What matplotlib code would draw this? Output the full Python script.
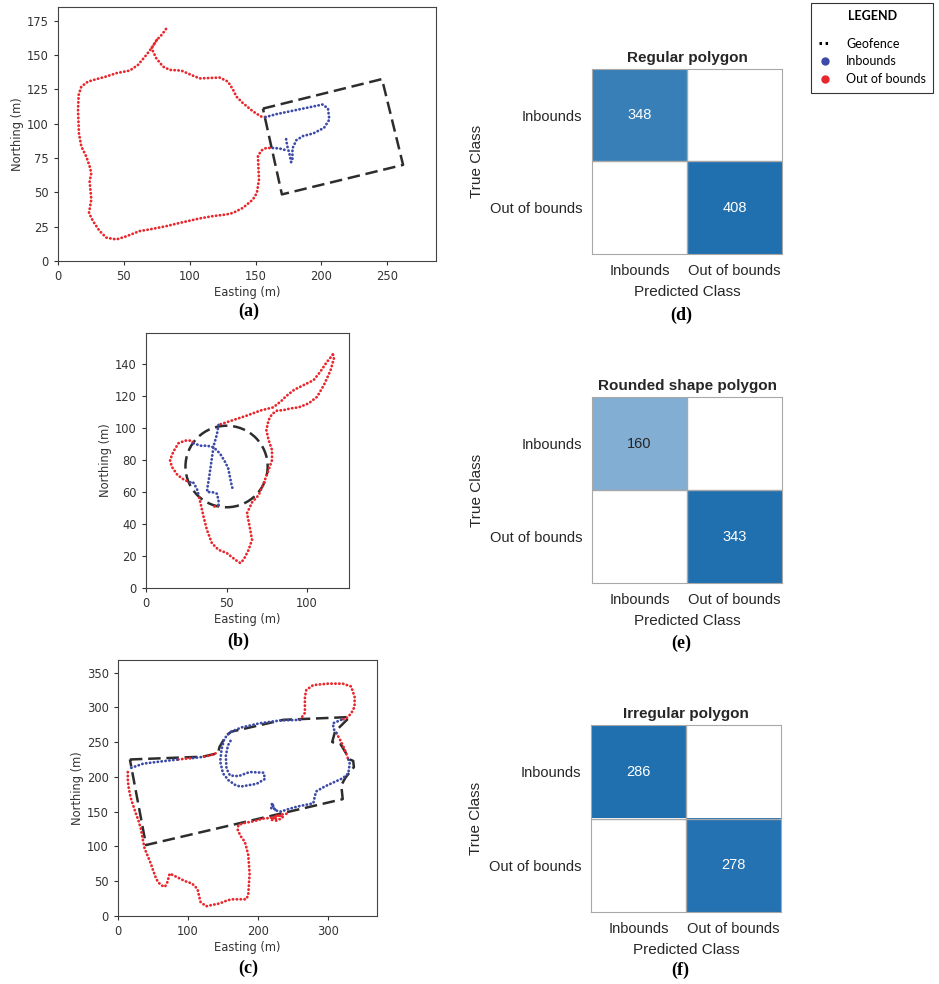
import numpy as np
import matplotlib.pyplot as plt
from matplotlib.lines import Line2D
from matplotlib.patches import Circle
from matplotlib.colors import LinearSegmentedColormap, Normalize

# ---------------- dane: panel (a) prostokatny geofence ----------------
a_fence = [(155.6, 111), (246, 132.5), (262, 70), (170, 48.5), (155.6, 111)]
a_red_right = [(82, 169), (79, 165), (75, 161), (71, 155), (74.6, 147.7), (79.7, 141.6), (84.8, 139.2),
               (93.6, 138.7), (101, 135.6), (107.5, 133), (122.7, 133.6), (129, 130.7), (132.8, 125),
               (135.4, 119.8), (140.4, 115), (148, 109), (154, 105.3), (157.4, 104.8)]
a_red_left = [(75, 161), (71, 155), (67, 150), (60.7, 142.8), (54.4, 138.7), (44.3, 136.8), (36.7, 134.4),
              (29, 132.4), (22.8, 130.7), (17.7, 127), (15.7, 121), (15.2, 110), (15.9, 93), (17.7, 83.5),
              (21.5, 76), (24, 69), (25.3, 64), (24, 58), (25.3, 44.8), (23.5, 35), (26.6, 29), (31.6, 21.8),
              (36.7, 17), (44.3, 15.7), (51.9, 18), (62, 21.8), (69.6, 23), (82.2, 25.4), (95, 28.3),
              (107.5, 31), (117.7, 32.7), (127.8, 33.9), (132.8, 35), (140.4, 38.7), (148, 44.8), (151, 49.6),
              (152.6, 59.3), (151.8, 76.3), (154.3, 80.4), (158, 82.3), (163, 82.3)]
a_blue_1 = [(157.4, 104.8), (166, 107), (181, 110), (196, 113), (201, 114), (205, 111), (206, 103),
            (202, 97), (194, 93), (186, 91), (181, 88), (178, 82), (178, 74), (177, 72), (176, 77),
            (174, 84), (173, 90)]
a_blue_2 = [(163, 82.3), (168, 82), (172, 81)]

# ---------------- dane: panel (b) okragly geofence ----------------
b_center = (50, 76)
b_radius = 25.5
b_red_1 = [(116, 146), (112, 141), (108, 135), (104, 130), (98, 127), (92, 124), (87, 120), (84, 117),
           (79, 113), (71, 111), (63, 108), (54, 105), (48, 103), (45, 102)]
b_red_2 = [(116, 146), (116.6, 143.5), (114.5, 136), (110.4, 126.9), (106.2, 119.6), (101, 115.5),
           (94.8, 113), (89.6, 112.3), (85.5, 111.3), (81.3, 110.9), (78.2, 108.8), (76.1, 105),
           (74.7, 98.8), (76.1, 92.6), (78.2, 86.3), (78.2, 80), (76.1, 73.8), (73, 65.5), (70, 58.2),
           (65.8, 53.5), (62.7, 46.8), (64.3, 38.5), (65.8, 30.2), (63.7, 23.9), (60.6, 17.7), (58.5, 15.6),
           (55.4, 17.7), (50.2, 21.8), (45, 23.9), (40.9, 28), (37.8, 36.4), (35.7, 44.7), (33.6, 54),
           (32.6, 58.2)]
b_red_3 = [(27.4, 66), (23.2, 68), (19.5, 70.7), (16, 75.9), (14.9, 80), (17, 85.3), (20.1, 90.5),
           (24.3, 92.2), (28.4, 92.2), (29.5, 90.5)]
b_red_4 = [(42.5, 51), (45, 51.5)]
b_blue_1 = [(45, 102), (44, 96), (42, 89), (41, 82), (40, 75), (39, 68), (38, 62), (38, 60), (41, 60),
            (44, 59), (45, 55), (45, 52)]
b_blue_2 = [(29.5, 90.5), (34, 89), (38, 89), (42, 88), (46, 84), (49, 79), (51, 75), (52, 70), (53, 65),
            (54, 61)]
b_blue_3 = [(27.4, 66), (29, 66.5), (30.5, 64), (32, 61), (32.6, 58.2)]

# ---------------- dane: panel (c) nieregularny geofence ----------------
c_fence = [(17, 225), (121, 229), (143, 234), (145, 243), (155, 260), (162, 265), (236, 282), (331, 286),
           (310, 265), (306, 250), (318, 247), (331, 225), (336, 223), (337, 214), (325, 199), (319, 188),
           (321, 168), (40, 102), (17, 225)]
c_red_1 = [(14, 207), (14, 196), (15, 186), (17, 175), (19, 167), (22, 158), (24, 152), (26, 146), (29, 138),
           (31, 131), (33, 124), (35, 112), (38, 97), (43, 85), (47, 75), (50, 66), (54, 55), (57, 49),
           (62, 44), (67, 42), (70, 47), (73, 58), (74, 61), (80, 58), (88, 54), (96, 50), (105, 47),
           (110, 43), (114, 37), (116, 28), (118, 20), (126, 14), (135, 16), (145, 18), (155, 22), (162, 24),
           (175, 24), (183, 24), (186, 30), (187, 45), (188, 61), (187, 75), (186, 88), (183, 100), (181, 107),
           (175, 115), (171, 124), (172, 131), (182, 134), (193, 136), (207, 140), (218, 141), (226, 143),
           (235, 146), (241, 147)]
c_red_2 = [(220, 138), (226, 140), (232, 139), (236, 143), (228, 145), (222, 141), (226, 137)]
c_red_3 = [(86, 225), (95, 226), (107, 227)]
c_red_4 = [(123, 229), (132, 231), (140, 234)]
c_red_5 = [(260, 282), (267, 292), (267, 305), (267, 315), (269, 325), (279, 332), (300, 334), (321, 334),
           (333, 330), (338, 315), (338, 301), (333, 291), (326, 284), (319, 282)]
c_red_6 = [(312, 263), (319, 250), (324, 239), (329, 225)]
c_blue_1 = [(19, 213), (36, 219), (60, 222), (86, 225)]
c_blue_2 = [(107, 227), (115, 228), (123, 229)]
c_blue_3 = [(260, 282), (231, 281), (202, 277), (176, 271), (160, 264), (152, 255), (148, 240), (146, 222),
            (150, 205), (158, 195), (168, 188), (175, 186), (198, 190), (210, 197), (208, 206), (188, 207),
            (172, 201), (160, 202), (155, 212), (154, 230), (157, 245), (162, 254)]
c_blue_4 = [(319, 282), (307, 277), (308, 269), (312, 263)]
c_blue_5 = [(329, 225), (331, 219), (329, 205), (321, 198), (310, 193), (295, 186), (283, 179), (281, 171),
            (279, 162), (269, 160), (255, 157), (241, 153), (233, 150), (224, 152), (221, 160)]
c_blue_6 = [(219, 155), (220, 162), (222, 157), (225, 152)]

# ---------------- macierze pomylek ----------------
classes = ['Inbounds', 'Out of bounds']
cm_d = [[348, 0], [0, 408]]
cm_e = [[160, 0], [0, 343]]
cm_f = [[286, 0], [0, 278]]
cm_titles = ['Regular polygon', 'Rounded shape polygon', 'Irregular polygon']

RED = '#e8262b'
BLUE = '#3c4ba8'
FENCE = '#2d2d2d'
W, H = 939, 984

fig = plt.figure(figsize=(W / 100, H / 100), dpi=100)


def add_ax(l, t, r, b):
    return fig.add_axes([l / W, 1 - b / H, (r - l) / W, (b - t) / H])


def track(ax, pts, color):
    xs, ys = zip(*pts)
    ax.plot(xs, ys, color=color, lw=2.0, ls=(0, (0.1, 1.3)), dash_capstyle='round')


def fence_line(ax, pts):
    xs, ys = zip(*pts)
    ax.plot(xs, ys, color=FENCE, lw=1.8, ls=(0, (5, 2.3)), zorder=1)


def style_map(ax, xlim, ylim, xticks, yticks):
    ax.set_xlim(*xlim)
    ax.set_ylim(*ylim)
    ax.set_xticks(xticks)
    ax.set_yticks(yticks)
    ax.tick_params(labelsize=8.3, colors='#333333', length=3)
    for s in ax.spines.values():
        s.set_color('#444444')
    ax.set_xlabel('Easting (m)', fontsize=8.3, color='#333333', labelpad=2)
    ax.set_ylabel('Northing (m)', fontsize=8.3, color='#333333', labelpad=2)


# (a)
ax = add_ax(58, 7, 436, 261)
fence_line(ax, a_fence)
for seg in [a_red_right, a_red_left]:
    track(ax, seg, RED)
for seg in [a_blue_1, a_blue_2]:
    track(ax, seg, BLUE)
style_map(ax, (0, 287), (0, 185), range(0, 251, 50), range(0, 176, 25))

# (b)
ax = add_ax(146, 333, 349, 588)
ax.add_patch(Circle(b_center, b_radius, fill=False, ec=FENCE, lw=1.8, ls=(0, (5, 2.3)), zorder=1))
for seg in [b_red_1, b_red_2, b_red_3, b_red_4]:
    track(ax, seg, RED)
for seg in [b_blue_1, b_blue_2, b_blue_3]:
    track(ax, seg, BLUE)
style_map(ax, (0, 126), (0, 159.5), [0, 50, 100], range(0, 141, 20))

# (c)
ax = add_ax(118, 660, 377, 916)
fence_line(ax, c_fence)
for seg in [c_red_1, c_red_2, c_red_3, c_red_4, c_red_5, c_red_6]:
    track(ax, seg, RED)
for seg in [c_blue_1, c_blue_2, c_blue_3, c_blue_4, c_blue_5, c_blue_6]:
    track(ax, seg, BLUE)
style_map(ax, (0, 370), (0, 368), [0, 100, 200, 300], range(0, 351, 50))

# macierze (d), (e), (f)
cmap = LinearSegmentedColormap.from_list('cm', ['#ffffff', '#2070b0'], gamma=0.75)
cm_boxes = [(592, 69, 782, 254), (592, 397, 782, 583), (591, 725, 781, 912)]
for mat, title, box in zip([cm_d, cm_e, cm_f], cm_titles, cm_boxes):
    ax = add_ax(*box)
    m = np.array(mat)
    ax.imshow(m, cmap=cmap, norm=Normalize(0, m.max()), aspect='auto')
    for i in range(2):
        for j in range(2):
            if m[i, j] > 0:
                frac = m[i, j] / m.max()
                ax.text(j, i, str(m[i, j]), ha='center', va='center', fontsize=10.5,
                        family='Liberation Sans', color='white' if frac > 0.6 else '#262626')
    ax.axhline(0.5, color='#a8a8a8', lw=1)
    ax.axvline(0.5, color='#a8a8a8', lw=1)
    for s in ax.spines.values():
        s.set_color('#a8a8a8')
    ax.set_xticks([0, 1])
    ax.set_yticks([0, 1])
    ax.set_xticklabels(classes, family='Liberation Sans', fontsize=10.5, color='#262626')
    ax.set_yticklabels(classes, family='Liberation Sans', fontsize=10.5, color='#262626')
    ax.tick_params(length=0, pad=7)
    ax.set_xlabel('Predicted Class', family='Liberation Sans', fontsize=11, color='#262626', labelpad=5)
    ax.set_ylabel('True Class', family='Liberation Sans', fontsize=11, color='#262626', labelpad=4)
    ax.set_title(title, family='Liberation Sans', fontsize=11, fontweight='bold', color='#262626', pad=5)

# podpisy paneli
for lab, px, py in [('(a)', 249, 311), ('(b)', 238, 641), ('(c)', 248, 968),
                    ('(d)', 681, 315), ('(e)', 681, 643), ('(f)', 680, 970)]:
    fig.text(px / W, 1 - py / H, lab, ha='center', va='center', family='Liberation Serif',
             fontweight='bold', fontsize=13)

# legenda
handles = [Line2D([], [], color='black', lw=2.2, ls=(0, (0.8, 1.2))),
           Line2D([], [], color=BLUE, marker='o', ls='', ms=5),
           Line2D([], [], color=RED, marker='o', ls='', ms=5)]
leg = fig.legend(handles, ['Geofence', 'Inbounds', 'Out of bounds'], loc='upper left',
                 bbox_to_anchor=(811 / W, 1 - 3 / H), borderaxespad=0, frameon=True, fancybox=False,
                 edgecolor='black', title='LEGEND', handlelength=1.0, handletextpad=1.2,
                 borderpad=0.6, labelspacing=0.45, prop={'family': 'Lato', 'size': 9},
                 title_fontproperties={'family': 'Lato', 'size': 9, 'weight': 'bold'})
leg._legend_box.sep = 11
leg.get_frame().set_linewidth(0.8)

fig.savefig('out.png', dpi=100, facecolor='white')
